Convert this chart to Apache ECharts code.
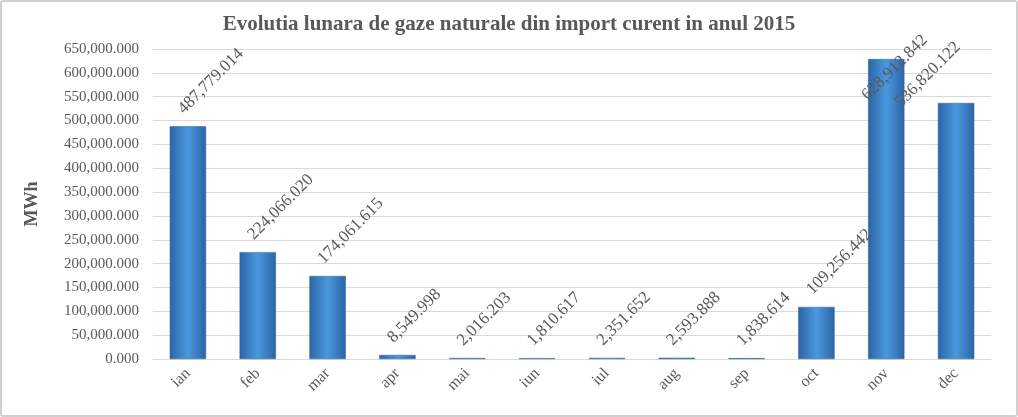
<!DOCTYPE html>
<html><head><meta charset="utf-8">
<script src="https://cdn.jsdelivr.net/npm/echarts@6/dist/echarts.min.js"></script>
<style>html,body{margin:0;padding:0;background:#fff}#c{width:1018px;height:417px;box-sizing:border-box;border:2px solid #d0d0d0;border-radius:3px}</style>
</head><body><div id="c"></div>
<script>
const categories=['ian','feb','mar','apr','mai','iun','iul','aug','sep','oct','nov','dec'];
const values=[487779.014,224066.020,174061.615,8549.998,2016.203,1810.617,2351.652,2593.888,1838.614,109256.442,628912.842,536820.122];
const title='Evolutia lunara de gaze naturale din import curent in anul 2015';
const yName='MWh';
function fmt(v){return Number(v).toLocaleString('en-US',{minimumFractionDigits:3,maximumFractionDigits:3});}
const ch=echarts.init(document.getElementById('c'));
const F='Liberation Serif, Times New Roman, serif';
const data=values.map((v,i)=>{
 if(i===10) return {value:v,label:{align:'center',distance:0,offset:[0,12]}};
 if(i===11) return {value:v,label:{align:'center',distance:0,offset:[0,-40]}};
 return v;
});
ch.setOption({
 animation:false,
 title:{text:title,left:'center',top:7,textStyle:{fontFamily:F,fontSize:21,fontWeight:'bold',color:'#595959'}},
 grid:{left:151,right:25,top:47,bottom:56},
 xAxis:{type:'category',data:categories,axisTick:{show:false},axisLine:{lineStyle:{color:'#d9d9d9'}},
  axisLabel:{rotate:45,fontFamily:F,fontSize:16,color:'#595959',margin:12}},
 yAxis:{type:'value',min:0,max:650000,interval:50000,name:yName,nameLocation:'middle',nameGap:112,
  nameTextStyle:{fontFamily:F,fontSize:18,fontWeight:'bold',color:'#595959'},
  axisLabel:{formatter:fmt,fontFamily:F,fontSize:15,color:'#595959',margin:14},
  splitLine:{lineStyle:{color:'#d9d9d9',width:1}},axisLine:{show:false},axisTick:{show:false}},
 series:[{type:'bar',data:data,barWidth:'52%',
  itemStyle:{color:new echarts.graphic.LinearGradient(0,0,1,0,[{offset:0,color:'#2c64a4'},{offset:0.5,color:'#4a98df'},{offset:1,color:'#2c64a4'}]),borderColor:'#2a5f9e',borderWidth:0.5},
  label:{show:true,position:'top',rotate:45,align:'left',verticalAlign:'middle',distance:22,offset:[-10,0],
   formatter:p=>fmt(p.value),fontFamily:F,fontSize:17,color:'#595959'}}]
});
</script></body></html>
